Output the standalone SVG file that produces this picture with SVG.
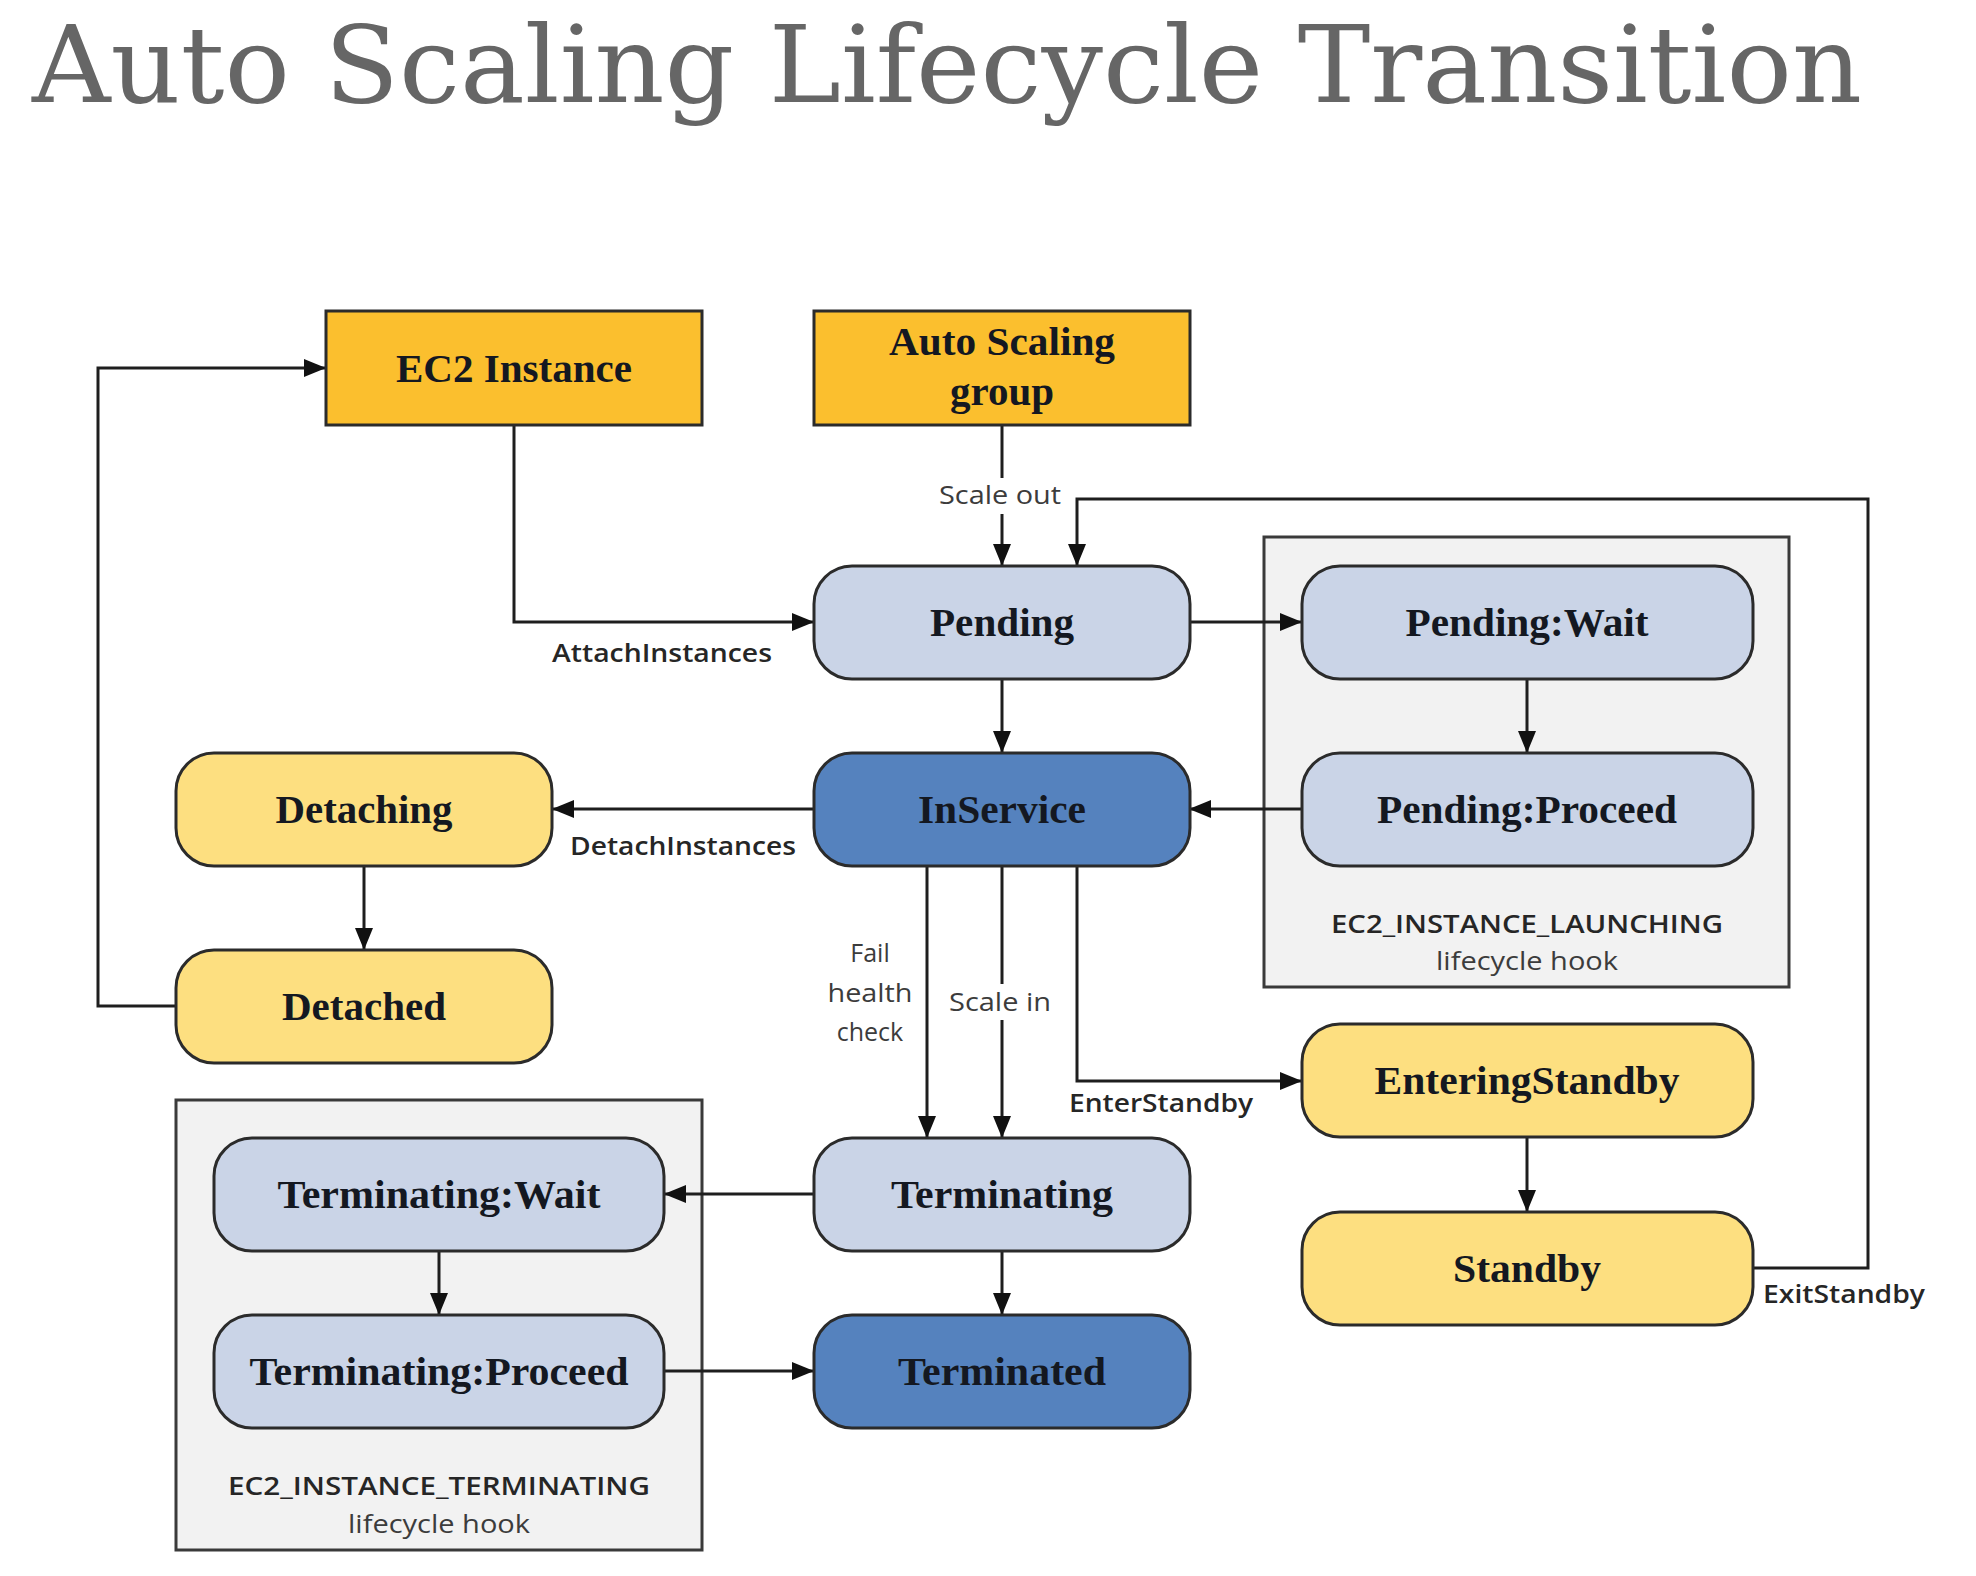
<svg xmlns="http://www.w3.org/2000/svg" width="1976" height="1576" viewBox="0 0 1976 1576">
<style>
.title{font-family:"DejaVu Serif","Liberation Serif",serif;font-size:106px;fill:#666666}
.node{stroke:#2b2b2b;stroke-width:3}
.orange{fill:#FBBF2E}
.lblue{fill:#CAD4E7}
.dblue{fill:#5582BE}
.yellow{fill:#FDDF80}
.grp{fill:#F2F2F2;stroke:#3a3a3a;stroke-width:3}
.nt{font-family:"Liberation Serif","Times New Roman",serif;font-weight:bold;font-size:40px;fill:#141821;text-anchor:middle}
.lb{font-family:"Open Sans","Liberation Sans",sans-serif;font-weight:600;font-size:25px;fill:#262626;text-anchor:middle}
.lr{font-family:"Open Sans","Liberation Sans",sans-serif;font-weight:400;font-size:25px;fill:#3c3c3c;text-anchor:middle}
.conn path{fill:none;stroke:#1e1e1e;stroke-width:3}
</style>
<defs>
<marker id="arr" markerUnits="userSpaceOnUse" markerWidth="24" markerHeight="20" refX="22" refY="9" orient="auto">
<path d="M0,0 L22,9 L0,18 z" fill="#111111"/>
</marker>
</defs>
<rect x="0" y="0" width="1976" height="1576" fill="#ffffff"/>
<text class="title" x="32" y="102" textLength="1830" lengthAdjust="spacingAndGlyphs">Auto Scaling Lifecycle Transition</text>

<g id="hook-launching">
<rect class="grp" x="1264" y="537" width="525" height="450"/>
<text class="lb" x="1527" y="933" textLength="392" lengthAdjust="spacingAndGlyphs">EC2_INSTANCE_LAUNCHING</text>
<text class="lr" x="1527" y="970" textLength="182" lengthAdjust="spacingAndGlyphs">lifecycle hook</text>
</g>
<g id="hook-terminating">
<rect class="grp" x="176" y="1100" width="526" height="450"/>
<text class="lb" x="439" y="1495" textLength="422" lengthAdjust="spacingAndGlyphs">EC2_INSTANCE_TERMINATING</text>
<text class="lr" x="439" y="1533" textLength="182" lengthAdjust="spacingAndGlyphs">lifecycle hook</text>
</g>

<g class="conn" id="connectors">
<path d="M176,1006 H98 V368 H326" marker-end="url(#arr)"/>
<path d="M514,425 V622 H814" marker-end="url(#arr)"/>
<path d="M1002,425 V566" marker-end="url(#arr)"/>
<path d="M1753,1268 H1868 V499 H1077 V566" marker-end="url(#arr)"/>
<path d="M1189,622 H1302" marker-end="url(#arr)"/>
<path d="M1002,679 V753" marker-end="url(#arr)"/>
<path d="M1527,679 V753" marker-end="url(#arr)"/>
<path d="M1302,809 H1189" marker-end="url(#arr)"/>
<path d="M814,809 H552" marker-end="url(#arr)"/>
<path d="M364,866 V950" marker-end="url(#arr)"/>
<path d="M927,866 V1138" marker-end="url(#arr)"/>
<path d="M1002,866 V1138" marker-end="url(#arr)"/>
<path d="M1077,866 V1081 H1302" marker-end="url(#arr)"/>
<path d="M1527,1137 V1212" marker-end="url(#arr)"/>
<path d="M814,1194 H664" marker-end="url(#arr)"/>
<path d="M439,1251 V1315" marker-end="url(#arr)"/>
<path d="M1002,1251 V1315" marker-end="url(#arr)"/>
<path d="M664,1371 H814" marker-end="url(#arr)"/>
</g>

<g id="connector-labels">
<rect x="936" y="478" width="128" height="36" fill="#ffffff"/>
<text class="lr" x="1000" y="504" textLength="122" lengthAdjust="spacingAndGlyphs">Scale out</text>
<text class="lb" x="662" y="662" textLength="220" lengthAdjust="spacingAndGlyphs">AttachInstances</text>
<text class="lb" x="683" y="855" textLength="226" lengthAdjust="spacingAndGlyphs">DetachInstances</text>
<text class="lr" x="870" y="962">Fail</text>
<text class="lr" x="870" y="1002" textLength="85" lengthAdjust="spacingAndGlyphs">health</text>
<text class="lr" x="870" y="1041">check</text>
<rect x="946" y="984" width="110" height="36" fill="#ffffff"/>
<text class="lr" x="1000" y="1011" textLength="102" lengthAdjust="spacingAndGlyphs">Scale in</text>
<text class="lb" x="1161" y="1112" textLength="184" lengthAdjust="spacingAndGlyphs">EnterStandby</text>
<text class="lb" x="1844" y="1303" textLength="162" lengthAdjust="spacingAndGlyphs">ExitStandby</text>
</g>

<g id="ec2-instance">
<rect class="node orange" x="326" y="311" width="376" height="114"/>
<text class="nt" x="514" y="382" textLength="236" lengthAdjust="spacingAndGlyphs">EC2 Instance</text>
</g>
<g id="auto-scaling-group">
<rect class="node orange" x="814" y="311" width="376" height="114"/>
<text class="nt" x="1002" y="355" textLength="226" lengthAdjust="spacingAndGlyphs">Auto Scaling</text>
<text class="nt" x="1002" y="405" textLength="104" lengthAdjust="spacingAndGlyphs">group</text>
</g>
<g id="pending">
<rect class="node lblue" x="814" y="566" width="376" height="113" rx="38"/>
<text class="nt" x="1002" y="636" textLength="144" lengthAdjust="spacingAndGlyphs">Pending</text>
</g>
<g id="pending-wait">
<rect class="node lblue" x="1302" y="566" width="451" height="113" rx="38"/>
<text class="nt" x="1527" y="636" textLength="243" lengthAdjust="spacingAndGlyphs">Pending:Wait</text>
</g>
<g id="inservice">
<rect class="node dblue" x="814" y="753" width="376" height="113" rx="38"/>
<text class="nt" x="1002" y="823" textLength="168" lengthAdjust="spacingAndGlyphs">InService</text>
</g>
<g id="pending-proceed">
<rect class="node lblue" x="1302" y="753" width="451" height="113" rx="38"/>
<text class="nt" x="1527" y="823" textLength="300" lengthAdjust="spacingAndGlyphs">Pending:Proceed</text>
</g>
<g id="detaching">
<rect class="node yellow" x="176" y="753" width="376" height="113" rx="38"/>
<text class="nt" x="364" y="823" textLength="177" lengthAdjust="spacingAndGlyphs">Detaching</text>
</g>
<g id="detached">
<rect class="node yellow" x="176" y="950" width="376" height="113" rx="38"/>
<text class="nt" x="364" y="1020" textLength="164" lengthAdjust="spacingAndGlyphs">Detached</text>
</g>
<g id="entering-standby">
<rect class="node yellow" x="1302" y="1024" width="451" height="113" rx="38"/>
<text class="nt" x="1527" y="1094" textLength="305" lengthAdjust="spacingAndGlyphs">EnteringStandby</text>
</g>
<g id="terminating">
<rect class="node lblue" x="814" y="1138" width="376" height="113" rx="38"/>
<text class="nt" x="1002" y="1208" textLength="222" lengthAdjust="spacingAndGlyphs">Terminating</text>
</g>
<g id="terminating-wait">
<rect class="node lblue" x="214" y="1138" width="450" height="113" rx="38"/>
<text class="nt" x="439" y="1208" textLength="323" lengthAdjust="spacingAndGlyphs">Terminating:Wait</text>
</g>
<g id="standby">
<rect class="node yellow" x="1302" y="1212" width="451" height="113" rx="38"/>
<text class="nt" x="1527" y="1282" textLength="148" lengthAdjust="spacingAndGlyphs">Standby</text>
</g>
<g id="terminating-proceed">
<rect class="node lblue" x="214" y="1315" width="450" height="113" rx="38"/>
<text class="nt" x="439" y="1385" textLength="379" lengthAdjust="spacingAndGlyphs">Terminating:Proceed</text>
</g>
<g id="terminated">
<rect class="node dblue" x="814" y="1315" width="376" height="113" rx="38"/>
<text class="nt" x="1002" y="1385" textLength="208" lengthAdjust="spacingAndGlyphs">Terminated</text>
</g>
</svg>
